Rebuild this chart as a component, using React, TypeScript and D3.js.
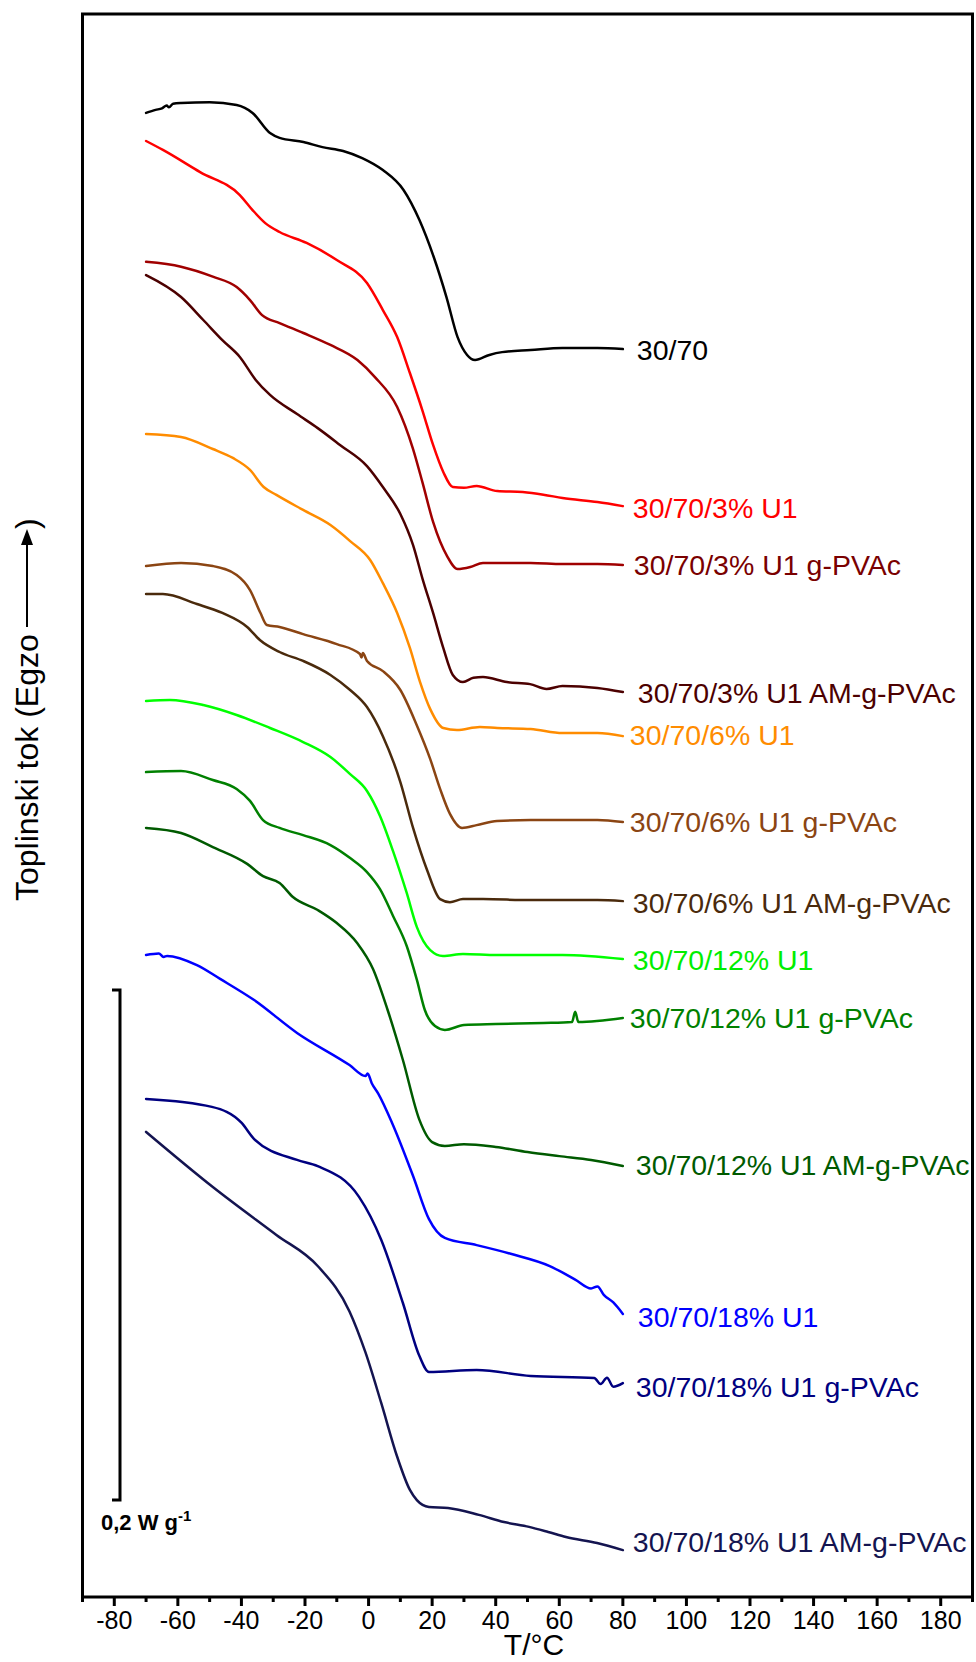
import React from 'react';
import * as d3 from 'd3';

const W = 976;
const H = 1662;
const FRAME = { left: 82.5, right: 972.5, top: 14, bottom: 1597 };

// x: temperature (°C); y: heat flow in mW/g (arbitrary offset, exo up)
const xDomain: [number, number] = [-90, 190];
const yDomain: [number, number] = [0, 620.8];
const xMajorTicks = [-80, -60, -40, -20, 0, 20, 40, 60, 80, 100, 120, 140, 160, 180];
const xMinorTicks = [-90, -70, -50, -30, -10, 10, 30, 50, 70, 90, 110, 130, 150, 170, 190];

type P = [number, number];

const s3070: P[] = [[-70,582.0],[-67,583.2],[-65,583.8],[-63.5,584.9],[-62.8,584.2],[-61.5,585.6],[-59,585.9],[-50,586.2],[-41.5,585.1],[-36.5,582.0],[-31,574.1],[-28,572.2],[-20.5,570.6],[-14.5,568.6],[-8,567.1],[-2,564.3],[4.5,559.6],[11,551.8],[16,540.0],[20.5,525.5],[24.5,509.8],[28,494.1],[31,487.1],[33.5,485.1],[38,487.1],[42,488.2],[51,489.0],[61,489.8],[72,489.8],[80,489.4]];
const s3U1: P[] = [[-70,571.0],[-64.7,567.5],[-53,558.8],[-40.5,549.8],[-36.5,543.9],[-32.5,538.8],[-28,535.3],[-19.5,531.0],[-10,524.3],[-0.5,515.3],[4.5,504.7],[9,494.1],[13,480.0],[17,465.1],[20.3,451.8],[23.5,441.2],[26.5,435.3],[30,435.0],[34,435.7],[40.5,433.7],[48.5,433.3],[55,432.3],[61,431.0],[72,429.4],[80,427.8]];
const s3G: P[] = [[-70,523.6],[-59,521.7],[-49,517.8],[-41.5,513.7],[-37.3,508.6],[-33.5,502.7],[-28,499.6],[-20.5,495.7],[-12,491.0],[-3.5,485.1],[2,478.4],[9,466.7],[14,450.2],[17,436.9],[20.3,421.6],[24.7,408.2],[28,403.1],[32,403.9],[36,405.5],[51,405.5],[61,405.1],[72,405.1],[80,404.7]];
const s3AM: P[] = [[-70,518.4],[-59,509.8],[-52,500.8],[-46,492.9],[-40.5,486.3],[-35.5,477.3],[-31,471.4],[-22.5,463.9],[-16,458.4],[-9,451.8],[-0.5,443.5],[4.5,435.3],[10,424.7],[14,412.5],[17,399.2],[20.3,385.9],[23.5,372.2],[26.5,361.6],[29.7,358.8],[33,360.5],[36,360.8],[43.5,358.8],[50.8,358.0],[56,356.1],[61,357.3],[72,356.5],[80,354.9]];
const s6U1: P[] = [[-70,456.1],[-59,454.9],[-49,450.2],[-42.7,446.7],[-37.3,442.0],[-33,435.3],[-29,432.2],[-20.6,426.3],[-12,420.4],[-5.8,414.1],[0.5,406.7],[4.5,397.6],[9,385.9],[13,372.2],[16.2,358.8],[19.4,348.2],[23.5,340.8],[27.8,340.0],[35,341.2],[40.5,340.8],[51,340.4],[61,338.8],[72,338.8],[80,337.6]];
const s6G: P[] = [[-70,404.3],[-59,405.5],[-49,404.3],[-41.5,400.8],[-37.3,394.9],[-34,385.9],[-32,381.2],[-28,380.4],[-20.6,377.6],[-10,373.7],[-2.7,369.8],[-2.2,368.4],[-1.8,370.2],[-0.5,367.1],[4.5,363.1],[10,355.7],[15,342.4],[19.4,328.6],[22.5,316.9],[25.6,307.1],[29.4,301.6],[34,302.7],[40.4,304.3],[51,304.7],[61,304.7],[72,304.7],[80,303.9]];
const s6AM: P[] = [[-70,393.3],[-64.7,393.3],[-54,389.4],[-46,385.9],[-38.2,380.4],[-34.2,375.3],[-28,370.6],[-20.6,367.1],[-12,361.6],[-5.8,355.7],[-0.5,349.0],[4.5,337.6],[10,319.6],[14,301.6],[18.4,285.1],[22.5,273.7],[25.6,272.5],[29.7,273.7],[36,273.7],[51,273.3],[61,273.3],[72,273.3],[80,272.9]];
const s12U1: P[] = [[-70,351.4],[-62.5,351.8],[-52,349.8],[-41.5,345.9],[-31,340.8],[-20.6,335.3],[-12,329.4],[-5.8,322.7],[-0.5,316.1],[3.6,306.3],[7.7,292.5],[12,276.1],[15.2,262.7],[19.4,253.7],[23.4,251.4],[29.7,252.2],[40.4,251.8],[51,251.8],[61,251.8],[80,250.2]];
const s12G: P[] = [[-70,323.5],[-59,323.9],[-49,320.4],[-41.5,316.9],[-37.3,312.2],[-33.2,304.7],[-28,301.6],[-20.6,298.8],[-12,294.9],[-5.8,289.8],[-0.5,284.3],[3.6,277.6],[7.7,267.1],[12,255.3],[15.2,242.0],[17.7,230.2],[20.9,223.9],[24,222.4],[30,224.3],[40,224.7],[55,225.1],[64,225.5],[65,229.5],[66,225.5],[80,227.1]];
const s12AM: P[] = [[-70,301.6],[-59,299.6],[-49,294.1],[-38.2,287.5],[-33.2,282.7],[-28,280.0],[-23.8,274.5],[-16,269.4],[-10,264.3],[-3.6,256.5],[1.4,246.3],[6,230.2],[10.8,210.6],[16,187.1],[20,178.4],[24,176.9],[30,177.6],[40,176.5],[50,174.5],[60,172.9],[70,171.4],[80,169.0]];
const s18U1: P[] = [[-70,251.8],[-66,252.4],[-64.5,251.0],[-63.4,251.4],[-54,247.8],[-46.7,242.4],[-36,234.1],[-22.5,221.2],[-6,208.6],[-1,204.3],[-0.3,205.3],[1,201.5],[3,197.5],[7.4,185.9],[14,165.1],[19,148.2],[24,140.8],[34,138.0],[45,134.5],[57,129.8],[65,124.5],[70,121.0],[72,121.8],[74,118.5],[77,115.5],[80,111.0]];
const s18G: P[] = [[-70,195.3],[-49.3,192.2],[-40,186.0],[-36,179.6],[-22.5,171.4],[-16,169.0],[-3,156.9],[4,140.0],[10.8,115.3],[16,94.5],[19,88.2],[34,89.0],[51,86.7],[71,85.9],[73,83.5],[75,86.0],[77,82.5],[80,83.9]];
const s18AM: P[] = [[-70,182.4],[-49,160.8],[-29,142.0],[-16,129.8],[-6,112.0],[-1,96.0],[4,76.0],[9,55.0],[13,42.0],[15.2,38.0],[19,35.3],[25,34.9],[34.7,32.2],[42.6,29.4],[50.5,27.5],[56.5,25.5],[62.1,23.5],[71.9,21.2],[80,18.4]];

const seriesData: P[][] = [s3070, s3U1, s3G, s3AM, s6U1, s6G, s6AM, s12U1, s12G, s12AM, s18U1, s18G, s18AM];
const seriesNames = [
  '30/70', '30/70/3% U1', '30/70/3% U1 g-PVAc', '30/70/3% U1 AM-g-PVAc',
  '30/70/6% U1', '30/70/6% U1 g-PVAc', '30/70/6% U1 AM-g-PVAc',
  '30/70/12% U1', '30/70/12% U1 g-PVAc', '30/70/12% U1 AM-g-PVAc',
  '30/70/18% U1', '30/70/18% U1 g-PVAc', '30/70/18% U1 AM-g-PVAc',
];
const seriesColors = ['#000000', '#ff0000', '#a00000', '#4c0000', '#ff8c00', '#8b4513', '#4a2a0c', '#00ff00', '#008000', '#005a00', '#0000ff', '#000080', '#141450'];
const labelColors = ['#000000', '#ff0000', '#7a0000', '#4c0000', '#ff8c00', '#8b4513', '#4a2a0c', '#00ee00', '#008000', '#005a00', '#0000ff', '#000080', '#141450'];
const labelDx = [14, 10, 11, 15, 7, 7, 10, 10, 7, 13, 15, 13, 10];
const labelDy = [1, 2, 0, 1, -1, 0, 2, 1, 0, -1, 3, 4, -8];

// scale bar: 0.2 W/g = 200 mW/g
const scaleBarBottom = 38;
const scaleBarSize = 200;

const FONT = '"Liberation Sans", Arial, Helvetica, sans-serif';

export default function App() {
  const x = d3.scaleLinear().domain(xDomain).range([FRAME.left, FRAME.right]);
  const y = d3.scaleLinear().domain(yDomain).range([FRAME.bottom, FRAME.top]);
  const line = d3.line<P>().x(d => x(d[0])).y(d => y(d[1])).curve(d3.curveMonotoneX);

  const sbX = 120;
  const sbTop = y(scaleBarBottom + scaleBarSize);
  const sbBot = y(scaleBarBottom);

  const labelFont = 28.5;

  return (
    <svg width={W} height={H} style={{ position: 'absolute', left: 0, top: 0, background: '#fff' }} xmlns="http://www.w3.org/2000/svg">
      <rect x={0} y={0} width={W} height={H} fill="#fff" />
      {seriesData.map((d, i) => (
        <path key={i} d={line(d) || ''} fill="none" stroke={seriesColors[i]} strokeWidth={2.5} strokeLinejoin="round" strokeLinecap="round" />
      ))}
      {seriesData.map((d, i) => {
        const last = d[d.length - 1];
        return (
          <text key={'l' + i} x={x(last[0]) + labelDx[i]} y={y(last[1]) + labelDy[i] + labelFont * 0.36}
            fill={labelColors[i]} fontFamily={FONT} fontSize={labelFont}>{seriesNames[i]}</text>
        );
      })}
      <rect x={FRAME.left} y={FRAME.top} width={FRAME.right - FRAME.left} height={FRAME.bottom - FRAME.top}
        fill="none" stroke="#000" strokeWidth={3} />
      {xMajorTicks.map(t => (
        <g key={'M' + t}>
          <line x1={x(t)} x2={x(t)} y1={FRAME.bottom} y2={FRAME.bottom + 9} stroke="#000" strokeWidth={3} />
          <text x={x(t)} y={1629} textAnchor="middle" fontFamily={FONT} fontSize={25} fill="#000">{t}</text>
        </g>
      ))}
      {xMinorTicks.map(t => (
        <line key={'m' + t} x1={x(t)} x2={x(t)} y1={FRAME.bottom} y2={FRAME.bottom + 5} stroke="#000" strokeWidth={3} />
      ))}
      <text x={534} y={1655} textAnchor="middle" fontFamily={FONT} fontSize={30} fill="#000">T/°C</text>
      <g transform="translate(38,901) rotate(-90)">
        <text x={0} y={0} fontFamily={FONT} fontSize={32} fill="#000">Toplinski tok (Egzo</text>
        <line x1={274} x2={360} y1={-11} y2={-11} stroke="#000" strokeWidth={2} />
        <path d="M 372 -11 L 356 -17 L 356 -5 Z" fill="#000" />
        <text x={372} y={0} fontFamily={FONT} fontSize={32} fill="#000">)</text>
      </g>
      <path d={`M ${sbX - 8} ${sbTop} H ${sbX} V ${sbBot} H ${sbX - 8}`} fill="none" stroke="#000" strokeWidth={3} />
      <text x={101} y={1530} fontFamily={FONT} fontSize={22} fontWeight="bold" fill="#000">
        0,2 W g<tspan dy={-9} fontSize={15}>-1</tspan>
      </text>
    </svg>
  );
}
